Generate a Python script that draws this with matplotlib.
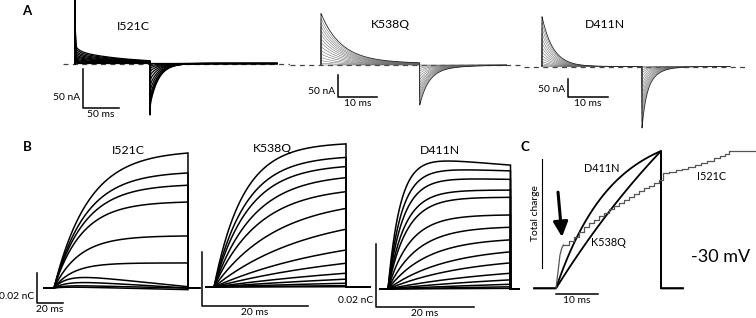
import numpy as np
import matplotlib.pyplot as plt

plt.rcParams['font.family'] = ['Lato', 'DejaVu Sans']
W, H = 756, 318

mutants = ['I521C', 'K538Q', 'D411N']

# ---- A: gating currents, peak amplitude (nA) of each voltage step ----
a_on_I521C = [0, 1.5, 3, 4.5, 6, 8, 10, 12, 14.5, 17, 20, 23]
a_off_I521C = [0, 3, 6, 10, 15, 21, 28, 35, 42, 47, 51, 54]
a_on_K538Q = [0, 4, 10, 17, 25, 33, 42, 51, 60, 69, 78, 87, 96, 106, 117]
a_off_K538Q = [0, 3, 8, 13, 19, 26, 33, 40, 47, 54, 61, 68, 75, 83, 91]
a_on_D411N = [0, 3, 8, 14, 22, 31, 41, 52, 64, 77, 91, 106, 121, 136]
a_off_D411N = [0, 4, 10, 18, 28, 40, 53, 67, 82, 98, 114, 131, 149, 168]

# kinetics in ms: (fast tau, slow tau, slow fraction)
kin_on = {'I521C': (6, 70, 0.7), 'K538Q': (5, 25, 0.1), 'D411N': (2.8, 10, 0.0)}
kin_off = {'I521C': (12, 12, 0.0), 'K538Q': (2.2, 7, 0.18), 'D411N': (1.0, 2.8, 0.46)}
cap_on = {'I521C': 82, 'K538Q': 0, 'D411N': 0}     # nA capacitive spike
cap_off = {'I521C': 12, 'K538Q': 0, 'D411N': 0}
pulse = {'I521C': 105, 'K538Q': 25, 'D411N': 25}    # ms
rec_end = {'I521C': 283, 'K538Q': 47, 'D411N': 47}
a_bars = {'I521C': (50, 50), 'K538Q': (10, 50), 'D411N': (10, 50)}  # ms, nA

# ---- B: charge (nC) at end of pulse, time constant (ms), drift (nC/ms) ----
b_q_I521C = [0.090, 0.0767, 0.0685, 0.0573, 0.0347, 0.0167, 0.010, 0.0053, 0.002, 0.001]
b_tau_I521C = [27, 25, 24, 22, 20, 15, 10, 10, 8, 8]
b_drift_I521C = [0, 0, 0, 0, 0, 0, -8.7e-5, -5e-5, -2e-5, -2e-5]
b_q_K538Q = [0.0530, 0.0480, 0.0446, 0.0405, 0.0353, 0.0291, 0.0214, 0.0137,
             0.0088, 0.0051, 0.0029, 0.0014, 0.0005, 0.0001]
b_tau_K538Q = [5.5, 6, 6.5, 7.5, 8.5, 12, 18, 25, 30, 40, 50, 60, 80, 100]
b_drift_K538Q = [0] * 14
b_q_D411N = [0.0425, 0.0387, 0.0356, 0.0314, 0.0291, 0.0235, 0.0196, 0.0156,
             0.0118, 0.0083, 0.0050, 0.0029, 0.0015, 0.0007, 0.0002]
b_tau_D411N = [2.5, 2.8, 3.1, 3.4, 3.8, 4.5, 6, 8, 12, 16, 25, 35, 50, 80, 100]
b_drift_D411N = [-1.27e-4, -4.8e-5, -3.2e-5] + [0] * 12

# ---- C: normalised charge at -30 mV ----
c_pulse = 25
c_tau = {'D411N': 13, 'K538Q': 60}
c_t_I521C = [0, 0.48, 0.95, 1.35, 1.75, 3.0, 4.2, 5.4, 6.6, 7.8, 9.0, 10.2, 11.4, 12.6,
             13.8, 15.0, 16.2, 17.4, 18.6, 19.8, 21.0, 22.2, 23.4, 24.6, 25.5, 27.0, 28.5,
             30.0, 31.5, 33.0, 34.5, 36.0, 37.5, 39.0, 40.2, 41.1, 47.4]
c_q_I521C = [0, 0.12, 0.243, 0.29, 0.315, 0.345, 0.375, 0.41, 0.45, 0.475, 0.50, 0.528,
             0.552, 0.575, 0.597, 0.622, 0.645, 0.668, 0.688, 0.71, 0.73, 0.748, 0.768,
             0.787, 0.838, 0.848, 0.86, 0.871, 0.885, 0.90, 0.91, 0.925, 0.946, 0.966,
             0.98, 1.0, 1.0]

a_on = {'I521C': a_on_I521C, 'K538Q': a_on_K538Q, 'D411N': a_on_D411N}
a_off = {'I521C': a_off_I521C, 'K538Q': a_off_K538Q, 'D411N': a_off_D411N}
b_q = {'I521C': b_q_I521C, 'K538Q': b_q_K538Q, 'D411N': b_q_D411N}
b_tau = {'I521C': b_tau_I521C, 'K538Q': b_tau_K538Q, 'D411N': b_tau_D411N}
b_drift = {'I521C': b_drift_I521C, 'K538Q': b_drift_K538Q, 'D411N': b_drift_D411N}

fig = plt.figure(figsize=(W / 100, H / 100), dpi=100)


def px_axes(x0, y0, sx, sy, box):
    # x0, y0: pixel of data origin; sx, sy: pixels per unit; box: left, top, right, bottom pixels
    l, t, r, b = box
    ax = fig.add_axes([l / W, 1 - b / H, (r - l) / W, (b - t) / H])
    ax.set_xlim((l - x0) / sx, (r - x0) / sx)
    ax.set_ylim((y0 - b) / sy, (y0 - t) / sy)
    ax.axis('off')
    return ax


def ftext(x, y, s, **kw):
    fig.text(x / W, 1 - y / H, s, ha='center', va='center', **kw)


def scalebar(ax, x, y, dx, dy, xlab, ylab, yfrac, fs=7.4):
    if dy:
        ax.plot([x, x, x + dx], [y + dy, y, y], color='k', lw=1.1, clip_on=False)
        ax.annotate(ylab, (x, y + dy * yfrac), xytext=(-2, 0), textcoords='offset points',
                    ha='right', va='center', fontsize=fs)
    else:
        ax.plot([x, x + dx], [y, y], color='k', lw=1.1, clip_on=False)
    ax.annotate(xlab, (x + dx / 2, y), xytext=(0, -1.5), textcoords='offset points',
                ha='center', va='top', fontsize=fs)


def gating(t, a, b, m):
    T = pulse[m]
    tf, ts, fs = kin_on[m]
    i_on = a * ((1 - fs) * np.exp(-t / tf) + fs * np.exp(-t / ts)) + cap_on[m] * np.exp(-t / 0.4)
    u = np.clip(t - T, 0, None)
    tf2, ts2, fs2 = kin_off[m]
    i_off = -(b * ((1 - fs2) * np.exp(-u / tf2) + fs2 * np.exp(-u / ts2))
              + cap_off[m] * np.exp(-u / 0.4))
    return np.where(t < T, i_on, i_off)


# ---------------- panel A ----------------
a_layout = {  # origin x, origin y, px/ms, px/nA, box, bar corner (ms, nA), label frac
    'I521C': (75, 63.5, 0.714, 0.78, (63, 0, 290, 135), (11.2, -57), 0.28),
    'K538Q': (321, 65, 3.95, 0.44, (290, 0, 524, 135), (4.3, -73.4), 0.28),
    'D411N': (542, 66.5, 4.0, 0.366, (524, 0, 745, 135), (6.5, -84), 0.4),
}
for m in mutants:
    x0, y0, sx, sy, box, corner, frac = a_layout[m]
    ax = px_axes(x0, y0, sx, sy, box)
    xl = ax.get_xlim()
    ax.plot(xl, [0, 0], color='#444', lw=0.9, ls=(0, (4, 3.5)))
    t = np.arange(0, rec_end[m], 0.02)
    for k, (a, b) in enumerate(zip(a_on[m], a_off[m])):
        i = gating(t, a, b, m)
        if m == 'I521C':
            col, lw = 'k', 0.9
        else:
            col, lw = ('#222', 0.6) if k == len(a_on[m]) - 1 else ('#606060', 0.35)
        ax.plot(np.r_[0, t], np.r_[0, i], color=col, lw=lw, clip_on=False)
    dx, dy = a_bars[m]
    scalebar(ax, corner[0], corner[1], dx, dy, f'{dx} ms', f'{dy} nA', frac)

ftext(27, 11, 'A', fontsize=9.5, fontweight='bold')
ftext(133, 27, 'I521C', fontsize=8.8)
ftext(390, 25, 'K538Q', fontsize=8.8)
ftext(605, 25, 'D411N', fontsize=8.8)

# ---------------- panel B ----------------
b_layout = {  # origin x, origin y, px/ms, px/nC, box, bar corner, label frac, pre, post
    'I521C': (54, 288, 1.276, 1500, (0, 140, 205, 318), (-13.3, -0.01), 0.23, -7.8, 114),
    'K538Q': (214, 287, 5.28, 2700, (205, 140, 372, 318), (-2.27, -0.00704), 0.09, -2.6, 29.5),
    'D411N': (388, 289, 4.9, 3150, (372, 140, 520, 318), (-2.45, -0.0057), 0.1, -1.6, 27),
}
for m in mutants:
    x0, y0, sx, sy, box, corner, frac, pre, post = b_layout[m]
    ax = px_axes(x0, y0, sx, sy, box)
    T = pulse[m] if m == 'I521C' else 25
    t = np.linspace(0, T, 300)
    for q, tau, d in zip(b_q[m], b_tau[m], b_drift[m]):
        qt = q * (1 - np.exp(-t / tau)) / (1 - np.exp(-T / tau)) + d * t
        ax.plot(np.r_[pre, t, T, post], np.r_[0, qt, 0, 0], color='k', lw=1.1,
                solid_joinstyle='miter')
    scalebar(ax, corner[0], corner[1], 20, 0.02, '20 ms', '0.02 nC', frac)

ftext(27, 147, 'B', fontsize=9.5, fontweight='bold')
ftext(128, 150, 'I521C', fontsize=8.8)
ftext(272, 149, 'K538Q', fontsize=8.8)
ftext(440, 151, 'D411N', fontsize=8.8)

# ---------------- panel C ----------------
ax = px_axes(556, 288.3, 4.2, 137.3, (520, 140, 756, 318))
t = np.linspace(0, c_pulse, 300)
for m in ['D411N', 'K538Q']:
    tau = c_tau[m]
    qt = (1 - np.exp(-t / tau)) / (1 - np.exp(-c_pulse / tau))
    ax.plot(np.r_[-5.2, t, c_pulse, 30.2], np.r_[0, qt, 0, 0], color='k', lw=1.3)
ax.plot(c_t_I521C[:5], c_q_I521C[:5], color='#555', lw=0.9)
ax.plot(c_t_I521C[4:], c_q_I521C[4:], color='#555', lw=0.9, drawstyle='steps-post')
ax.plot([-3.33, -3.33], [0.15, 0.94], color='k', lw=0.8)
ax.text(-5.0, 0.55, 'Total charge', rotation=90, ha='center', va='center', fontsize=7.4)
scalebar(ax, 0, -0.04, 10, 0, '10 ms', '', 0)
ax.annotate('', xy=(1.43, 0.374), xytext=(0.48, 0.70),
            arrowprops=dict(arrowstyle='-|>,head_length=0.45,head_width=0.22',
                            lw=2.2, color='k', mutation_scale=20, shrinkA=0, shrinkB=0))
ax.text(10.95, 0.876, 'D411N', ha='center', va='center', fontsize=7.8)
ax.text(12.4, 0.33, 'K538Q', ha='center', va='center', fontsize=7.8)
ax.text(37.1, 0.813, 'I521C', ha='center', va='center', fontsize=7.8)
ax.text(39.3, 0.23, '-30 mV', ha='center', va='center', fontsize=13)
ftext(525, 147, 'C', fontsize=9.5, fontweight='bold')

fig.savefig('out.png', dpi=100)
